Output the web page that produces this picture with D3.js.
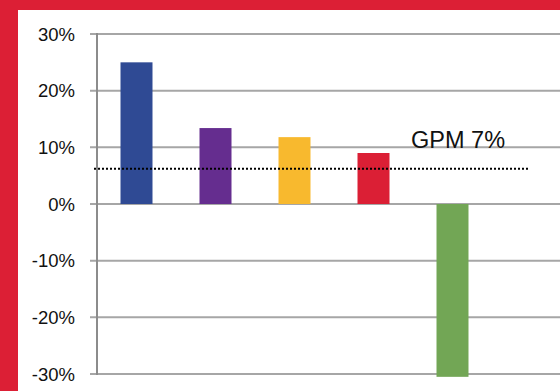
<!DOCTYPE html>
<html>
<head>
<meta charset="utf-8">
<script src="https://cdnjs.cloudflare.com/ajax/libs/d3/7.8.5/d3.min.js"></script>
<style>
  html, body { margin: 0; padding: 0; background: #dc1f35; }
  #chart { width: 560px; height: 391px; }
  svg { display: block; }
</style>
</head>
<body>
<div id="chart"></div>
<script>
'use strict';

// chart values
var categories = ['A', 'B', 'C', 'D', 'E'];
var values     = [25, 13.4, 11.8, 9.0, -30.5];
var barColors  = ['#2f4a94', '#652d8f', '#f8b92e', '#db1f35', '#72a655'];
var tickValues = [30, 20, 10, 0, -10, -20, -30];
var gpmValue   = 6.2;
var gpmLabel   = 'GPM 7%';

var width  = 560,
    height = 391,
    svg = d3.select('#chart')
        .append('svg')
        .attr('width', width)
        .attr('height', height);

// red frame with white panel
svg.append('rect')
    .attr('width', width)
    .attr('height', height)
    .attr('fill', '#dc1f35');
svg.append('rect')
    .attr('x', 18)
    .attr('y', 10)
    .attr('width', width - 18)
    .attr('height', height - 10)
    .attr('fill', '#ffffff');

var axisX = 97,
    y = d3.scaleLinear().domain([-30, 30]).range([374, 34]),
    x = d3.scaleBand()
        .domain(categories)
        .range([axisX, axisX + 5 * 79])
        .paddingInner(0.595)
        .paddingOuter(0.2975);

// gridlines (including tick marks on the left)
svg.selectAll('line.grid')
    .data(tickValues)
    .enter()
    .append('line')
    .attr('class', 'grid')
    .attr('x1', axisX - 7)
    .attr('x2', width)
    .attr('y1', function (d) { return y(d); })
    .attr('y2', function (d) { return y(d); })
    .attr('stroke', '#a6a6a6')
    .attr('stroke-width', 2);

// tick labels
svg.selectAll('text.tick')
    .data(tickValues)
    .enter()
    .append('text')
    .attr('class', 'tick')
    .attr('x', 75)
    .attr('y', function (d) { return y(d); })
    .attr('dy', '0.36em')
    .attr('text-anchor', 'end')
    .attr('font-family', 'Liberation Sans, Arial, sans-serif')
    .attr('font-size', 18.5)
    .attr('fill', '#111')
    .text(function (d) { return d + '%'; });

// bars
svg.selectAll('rect.bar')
    .data(values)
    .enter()
    .append('rect')
    .attr('class', 'bar')
    .attr('x', function (d, i) { return x(categories[i]); })
    .attr('y', function (d) { return y(Math.max(0, d)); })
    .attr('width', x.bandwidth())
    .attr('height', function (d) { return Math.abs(y(d) - y(0)); })
    .attr('fill', function (d, i) { return barColors[i]; });

// y axis line
svg.append('line')
    .attr('x1', axisX)
    .attr('x2', axisX)
    .attr('y1', y(30) - 1)
    .attr('y2', y(-30) + 1)
    .attr('stroke', '#8c8c8c')
    .attr('stroke-width', 2);

// GPM dotted reference line
svg.append('line')
    .attr('x1', 94)
    .attr('x2', 528)
    .attr('y1', y(gpmValue))
    .attr('y2', y(gpmValue))
    .attr('stroke', '#000')
    .attr('stroke-width', 2)
    .attr('stroke-dasharray', '2,2');

svg.append('text')
    .attr('x', 411)
    .attr('y', 148)
    .attr('font-family', 'Liberation Sans, Arial, sans-serif')
    .attr('font-size', 23.5)
    .attr('fill', '#111')
    .text(gpmLabel);
</script>
</body>
</html>
